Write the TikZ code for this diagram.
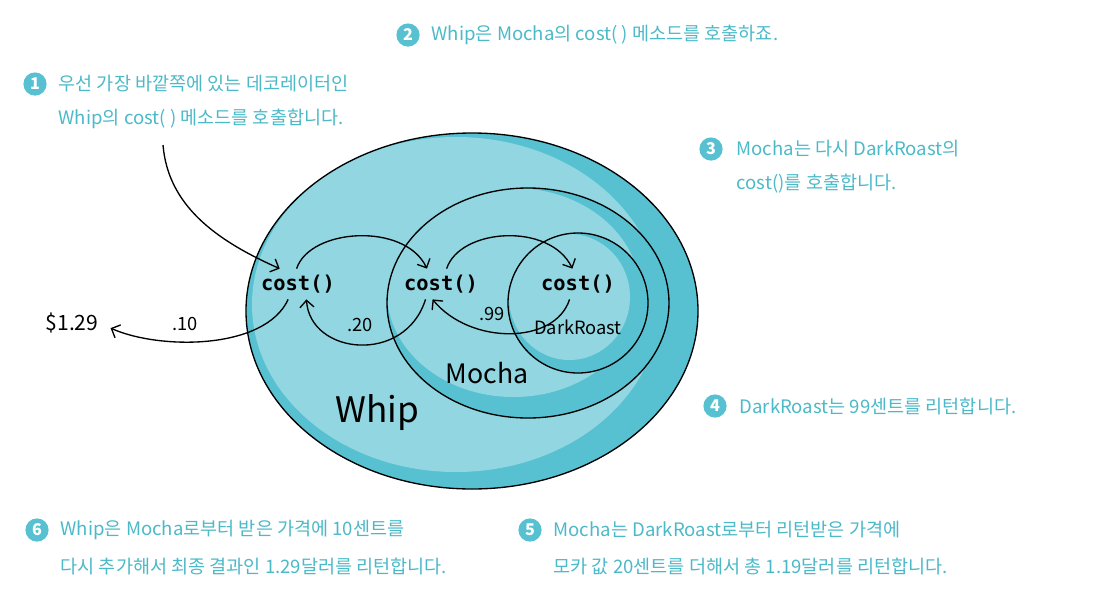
\documentclass[tikz,border=0pt]{standalone}
\usepackage{fontspec}
\usepackage{tikz}
\usetikzlibrary{arrows.meta}
\newfontfamily\kofont{Noto Sans CJK KR}
\newfontfamily\codefont{DejaVu Sans Mono}
\definecolor{tealdark}{HTML}{57C1D2}
\definecolor{teallight}{HTML}{91D6E0}
\definecolor{tealtext}{HTML}{4BB9C8}

\begin{document}
\begin{tikzpicture}[x=0.025cm, y=-0.025cm, line width=0.95pt,
  >={Straight Barb[length=5pt,width=10pt]},
  costnode/.style={font=\codefont\bfseries\fontsize{14.5}{16}\selectfont, inner sep=4pt},
  hand/.style={font=\kofont\fontsize{13}{15}\selectfont, inner sep=0pt},
  badge/.style={circle, fill=tealdark, text=white, font=\kofont\bfseries\fontsize{11.5}{11.5}\selectfont, minimum size=16.5pt, inner sep=0pt},
  note/.style={anchor=west, text=tealtext, font=\kofont\fontsize{13.2}{15}\selectfont, inner sep=0pt}]
  \useasboundingbox (0,0) rectangle (1094,600);

  % Whip
  \fill[tealdark] (472,311) ellipse [x radius=226, y radius=178];
  \begin{scope}
    \clip (472,311) ellipse [x radius=226, y radius=178];
    \fill[teallight] (456,304.5) ellipse [x radius=204, y radius=167.5];
  \end{scope}
  \draw (472,311) ellipse [x radius=226, y radius=178];

  % Mocha
  \fill[tealdark] (528,303) ellipse [x radius=141, y radius=115];
  \begin{scope}
    \clip (528,303) ellipse [x radius=141, y radius=115];
    \fill[teallight] (513.5,292.5) ellipse [x radius=126.5, y radius=104.5];
  \end{scope}
  \draw (528,303) ellipse [x radius=141, y radius=115];

  % DarkRoast
  \fill[tealdark] (578,303) ellipse [x radius=70, y radius=70];
  \begin{scope}
    \clip (578,303) ellipse [x radius=70, y radius=70];
    \fill[teallight] (569.5,297) ellipse [x radius=60.5, y radius=63];
  \end{scope}
  \draw (578,303) ellipse [x radius=70, y radius=70];

  \node[costnode] (c1) at (298,284) {cost()};
  \node[costnode] (c2) at (441,284) {cost()};
  \node[costnode] (c3) at (578,284) {cost()};

  \node[hand, font=\kofont\fontsize{25}{28}\selectfont] (whip) at (377,413) {Whip};
  \node[hand, font=\kofont\fontsize{19}{22}\selectfont] (mocha) at (487,373) {Mocha};
  \node[hand] (dark) at (578,327) {DarkRoast};
  \node[hand] (p99) at (492,314) {.99};
  \node[hand] (p20) at (360,325) {.20};
  \node[hand] (p10) at (185,324) {.10};
  \node[hand, font=\kofont\fontsize{15}{17}\selectfont] (price) at (72,323) {\$1.29};
  \coordinate (start) at (163,145);

  \draw[->] (start) .. controls (168,205) and (215,240) .. ([xshift=-13pt]c1.north);
  \draw[->] ([xshift=-1pt]c1.north) .. controls (310,228) and (405,222) .. ([xshift=-10pt]c2.north);
  \draw[->] ([xshift=4pt]c2.north) .. controls (460,228) and (550,222) .. ([xshift=-4pt]c3.north);
  \draw[->] ([xshift=-6pt]c3.south) .. controls (555,345) and (470,345) .. ([xshift=-6pt]c2.south);
  \draw[->] ([xshift=-11pt]c2.south) .. controls (405,365) and (310,355) .. ([xshift=6pt]c1.south);
  \draw[->, shorten >=9pt] ([xshift=-7pt]c1.south) .. controls (265,350) and (160,350) .. (price.east);

  % notes
  \node[badge] (b1) at (35,84) {1};
  \node[note] (n1a) at (58,84) {우선 가장 바깥쪽에 있는 데코레이터인};
  \node[note] (n1b) at (58,119) {Whip의 cost( ) 메소드를 호출합니다.};
  \node[badge] (b2) at (408,35) {2};
  \node[note] (n2) at (431,35) {Whip은 Mocha의 cost( ) 메소드를 호출하죠.};
  \node[badge] (b3) at (711,149) {3};
  \node[note] (n3a) at (736,149) {Mocha는 다시 DarkRoast의};
  \node[note] (n3b) at (736,184) {cost()를 호출합니다.};
  \node[badge] (b4) at (715,406) {4};
  \node[note] (n4) at (739,406) {DarkRoast는 99센트를 리턴합니다.};
  \node[badge] (b5) at (530,530) {5};
  \node[note] (n5a) at (553,530) {Mocha는 DarkRoast로부터 리턴받은 가격에};
  \node[note] (n5b) at (553,566) {모카 값 20센트를 더해서 총 1.19달러를 리턴합니다.};
  \node[badge] (b6) at (37,530) {6};
  \node[note] (n6a) at (60,530) {Whip은 Mocha로부터 받은 가격에 10센트를};
  \node[note] (n6b) at (60,566) {다시 추가해서 최종 결과인 1.29달러를 리턴합니다.};
\end{tikzpicture}
\end{document}
